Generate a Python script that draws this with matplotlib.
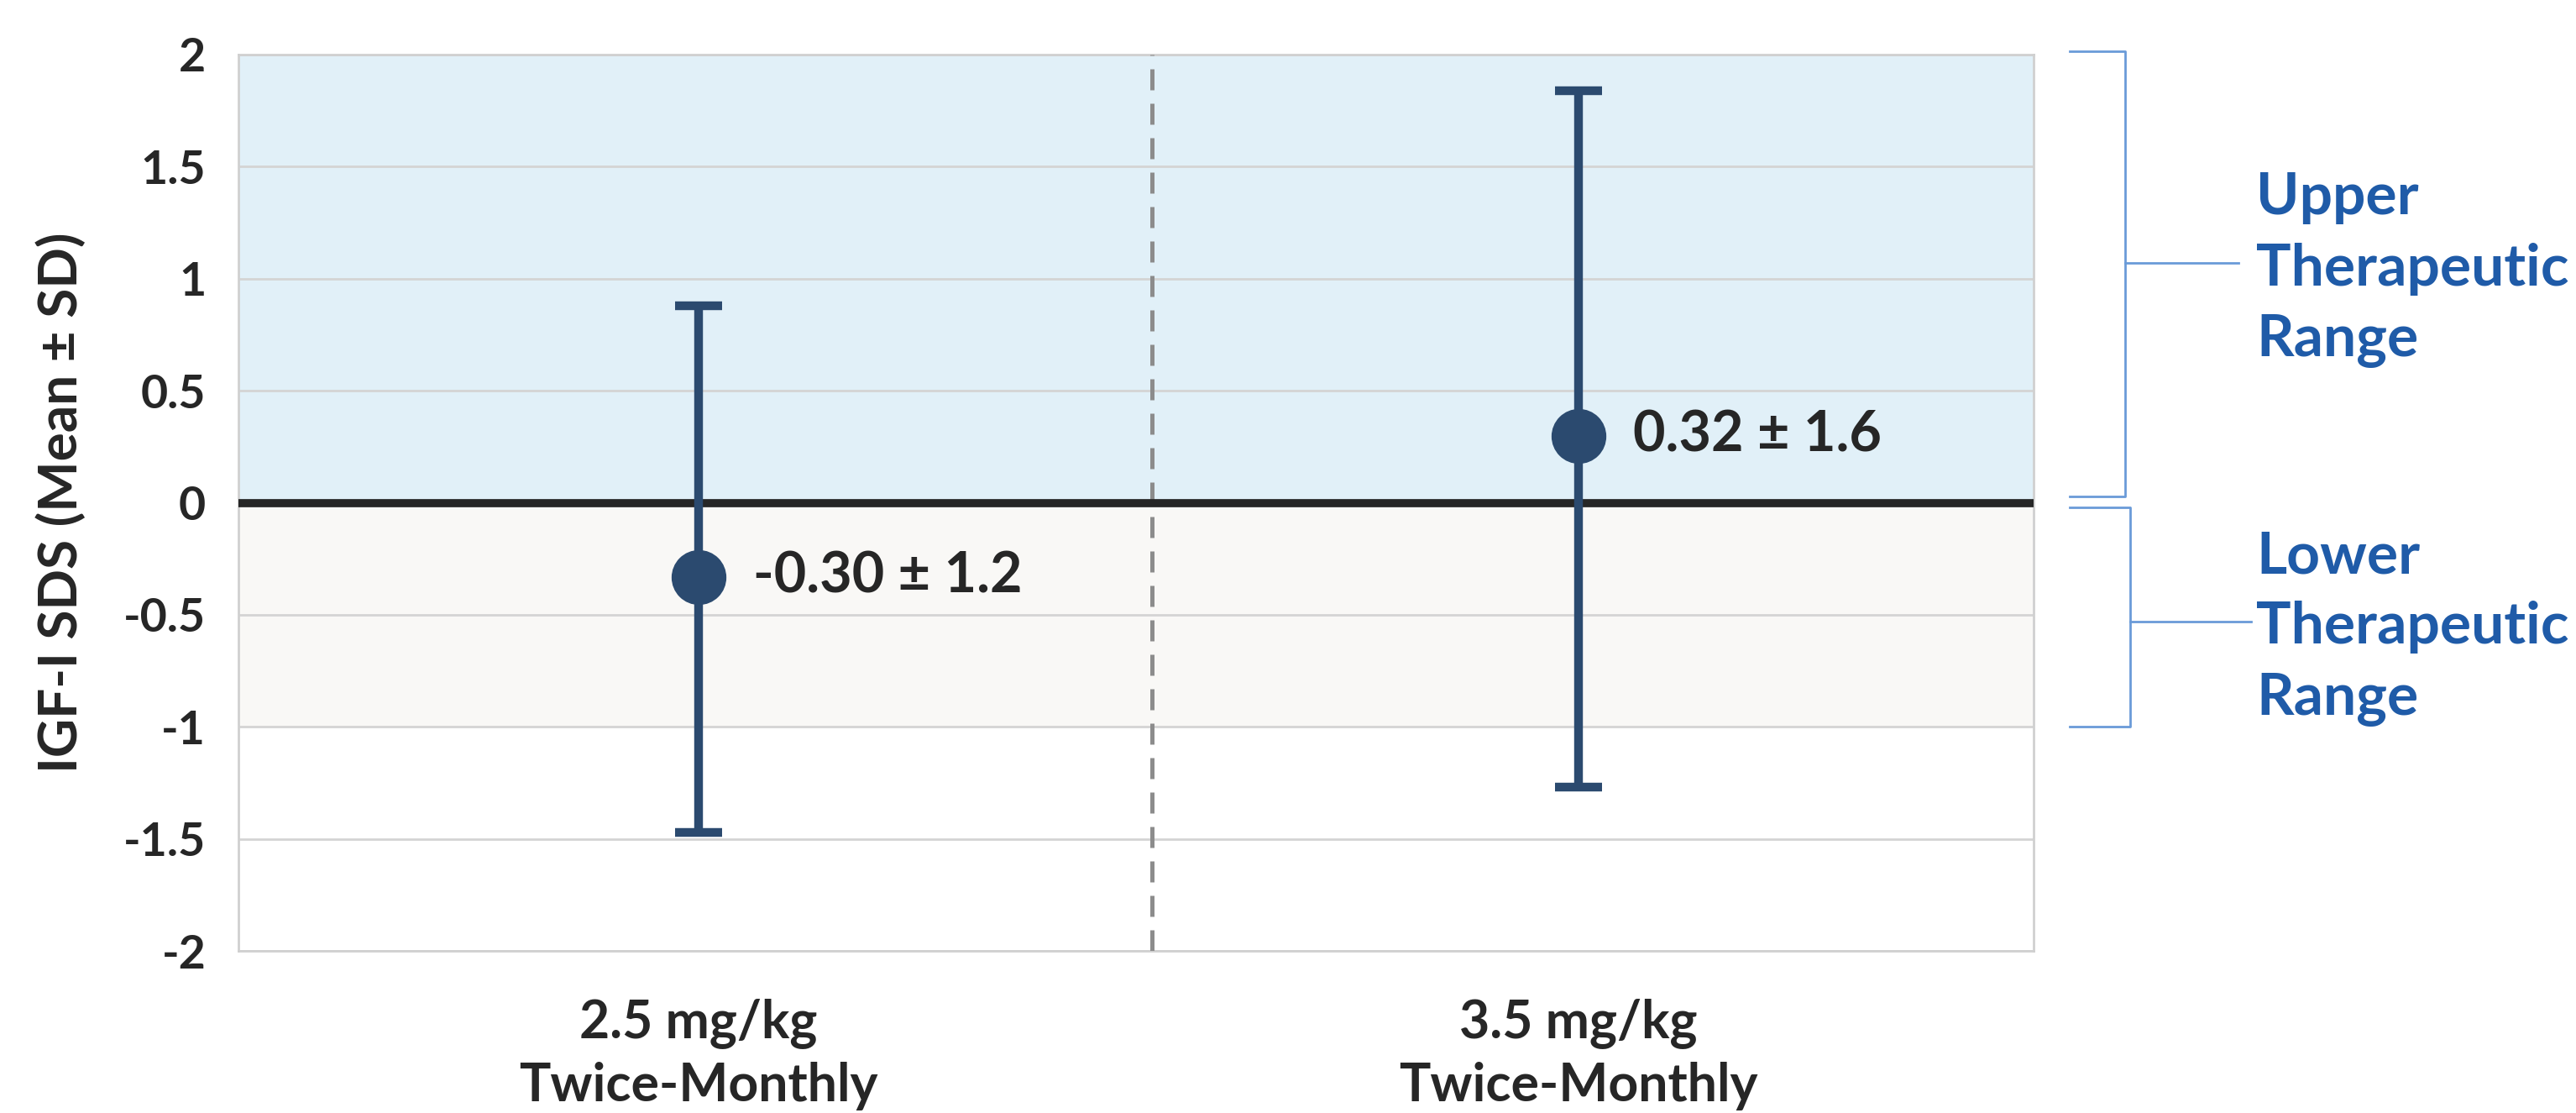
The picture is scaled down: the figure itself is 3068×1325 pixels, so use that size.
import numpy as np
import matplotlib.pyplot as plt
from matplotlib.transforms import blended_transform_factory

plt.rcParams['font.family'] = ['Lato', 'DejaVu Sans']
plt.rcParams['axes.unicode_minus'] = False

# data
categories = ['2.5 mg/kg\nTwice-Monthly', '3.5 mg/kg\nTwice-Monthly']
means = np.array([-0.33, 0.30])
upper = np.array([0.88, 1.84])
lower = np.array([-1.47, -1.27])
point_labels = ['-0.30 ± 1.2', '0.32 ± 1.6']
yticks = [-2, -1.5, -1, -0.5, 0, 0.5, 1, 1.5, 2]
ytick_labels = ['-2', '-1.5', '-1', '-0.5', '0', '0.5', '1', '1.5', '2']

dark = '#262626'
navy = '#2B4A6F'
blue_txt = '#1F5BA8'
blue_line = '#6A9BD8'

fig = plt.figure(figsize=(30.68, 13.25), dpi=100)
ax = fig.add_axes([0.0926, 0.1455, 0.6968, 0.8055])

# shaded therapeutic ranges
ax.axhspan(0, 2, color='#E1F0F8', zorder=0, lw=0)
ax.axhspan(-1, 0, color='#F9F8F6', zorder=0, lw=0)

x = np.arange(len(categories))
ax.errorbar(x, means, yerr=[means - lower, upper - means], fmt='o', color=navy,
            ms=46, elinewidth=7.5, capsize=20, capthick=7.5, zorder=5)

for xi, m, lab in zip(x, means, point_labels):
    ax.annotate(lab, (xi, m), xytext=(47, 0), textcoords='offset points',
                ha='left', va='center', fontsize=48, fontweight='bold', color=dark)

# zero line and category separator
ax.axhline(0, color=dark, lw=7, zorder=4)
ax.axvline(0.515, color='#8C8C8C', lw=3.6, ls=(0, (5, 3.2)), zorder=3)

ax.set_xlim(-0.523, 1.517)
ax.set_ylim(-2, 2)
ax.set_yticks(yticks)
ax.set_yticklabels(ytick_labels)
ax.set_xticks(x)
ax.set_xticklabels(categories, linespacing=1.35)
ax.tick_params(axis='y', length=0, pad=28, labelsize=40, labelcolor=dark)
ax.tick_params(axis='x', length=0, pad=40, labelsize=45, labelcolor=dark)
for t in ax.get_xticklabels() + ax.get_yticklabels():
    t.set_fontweight('bold')
ax.grid(axis='y', color='#D4D4D4', lw=2)
ax.set_axisbelow(True)
for s in ax.spines.values():
    s.set_color('#D0D0D0')
    s.set_linewidth(2)

ax.set_ylabel('IGF-I SDS (Mean ± SD)', fontsize=46, fontweight='bold', color=dark)
ax.yaxis.set_label_coords(-0.085, 0.5)

# brackets for the therapeutic ranges
tr = blended_transform_factory(ax.transAxes, ax.transData)
brackets = [(2.015, 0.03, 1.051, 1.07, 1.114, 'Upper\nTherapeutic\nRange'),
            (-0.02, -1.0, 1.054, -0.53, 1.121, 'Lower\nTherapeutic\nRange')]
for top, bot, xv, ymid, xend, txt in brackets:
    ax.plot([1.02, xv, xv, 1.02], [top, top, bot, bot], color=blue_line, lw=2,
            transform=tr, clip_on=False)
    ax.plot([xv, xend], [ymid, ymid], color=blue_line, lw=2, transform=tr, clip_on=False)
    ax.text(1.124, ymid - 0.03, txt, transform=tr, ha='left', va='center', fontsize=50,
            fontweight='bold', color=blue_txt, linespacing=1.42)

fig.savefig('out.png', dpi=100)
